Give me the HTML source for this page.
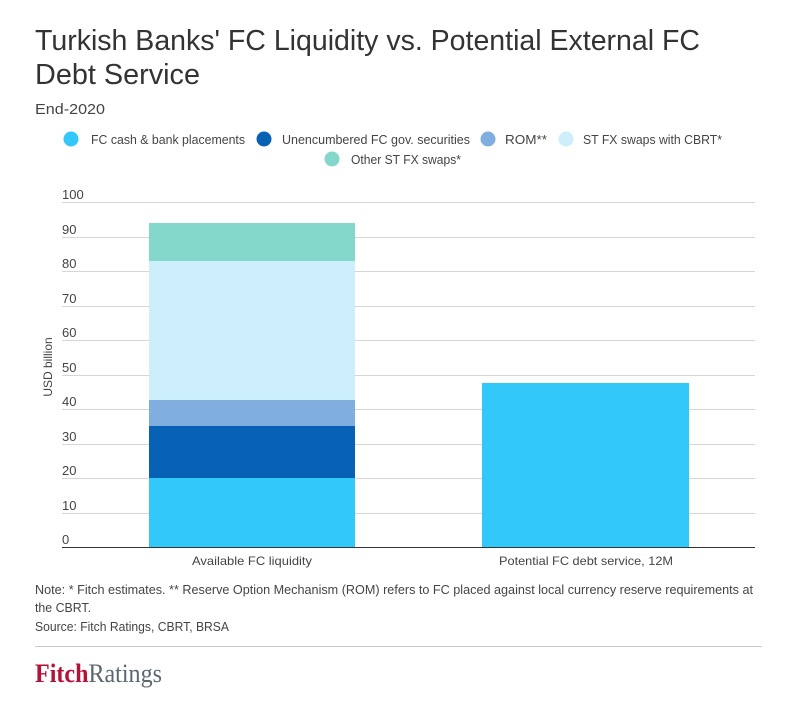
<!DOCTYPE html>
<html><head><meta charset="utf-8"><style>
body{margin:0;background:#fff;}
svg text{font-family:"Liberation Sans",sans-serif;}
</style></head><body>
<svg width="812" height="698" xmlns="http://www.w3.org/2000/svg">
<rect width="812" height="698" fill="#fff"/>
<text x="35" y="50" font-size="29" fill="#333" textLength="665" lengthAdjust="spacingAndGlyphs">Turkish Banks' FC Liquidity vs. Potential External FC</text>
<text x="35" y="84" font-size="29" fill="#333" textLength="165" lengthAdjust="spacingAndGlyphs">Debt Service</text>
<text x="35" y="114" font-size="15" fill="#444" textLength="70" lengthAdjust="spacingAndGlyphs">End-2020</text>
<g font-size="13" fill="#444">
<circle cx="71" cy="139" r="7.5" fill="#33c8fa"/><text x="91" y="144" textLength="154" lengthAdjust="spacingAndGlyphs">FC cash &amp; bank placements</text>
<circle cx="264" cy="139" r="7.5" fill="#0762b5"/><text x="282" y="144" textLength="188" lengthAdjust="spacingAndGlyphs">Unencumbered FC gov. securities</text>
<circle cx="488" cy="139" r="7.5" fill="#80aede"/><text x="505" y="144" textLength="42" lengthAdjust="spacingAndGlyphs">ROM**</text>
<circle cx="566" cy="139" r="7.5" fill="#cdeffc"/><text x="583" y="144" textLength="139" lengthAdjust="spacingAndGlyphs">ST FX swaps with CBRT*</text>
<circle cx="332" cy="159" r="7.5" fill="#84d7cb"/><text x="351" y="164" textLength="110" lengthAdjust="spacingAndGlyphs">Other ST FX swaps*</text>
</g>
<g stroke="#d6d6d6" stroke-width="1">
<line x1="62" x2="755" y1="202.5" y2="202.5"/><line x1="62" x2="755" y1="237.5" y2="237.5"/>
<line x1="62" x2="755" y1="271.5" y2="271.5"/><line x1="62" x2="755" y1="306.5" y2="306.5"/>
<line x1="62" x2="755" y1="340.5" y2="340.5"/><line x1="62" x2="755" y1="375.5" y2="375.5"/>
<line x1="62" x2="755" y1="409.5" y2="409.5"/><line x1="62" x2="755" y1="444.5" y2="444.5"/>
<line x1="62" x2="755" y1="478.5" y2="478.5"/><line x1="62" x2="755" y1="513.5" y2="513.5"/>
</g>
<g font-size="13" fill="#444">
<text x="62" y="199">100</text><text x="62" y="234">90</text><text x="62" y="268">80</text>
<text x="62" y="303">70</text><text x="62" y="337">60</text><text x="62" y="372">50</text>
<text x="62" y="406">40</text><text x="62" y="441">30</text><text x="62" y="475">20</text>
<text x="62" y="510">10</text><text x="62" y="544">0</text>
</g>
<text transform="translate(52,367) rotate(-90)" font-size="12" fill="#444" text-anchor="middle">USD billion</text>
<rect x="149" y="478" width="206" height="69" fill="#33c8fa"/>
<rect x="149" y="426" width="206" height="52" fill="#0762b5"/>
<rect x="149" y="400" width="206" height="26" fill="#80aede"/>
<rect x="149" y="261" width="206" height="139" fill="#cdeffc"/>
<rect x="149" y="223" width="206" height="38" fill="#84d7cb"/>
<rect x="482" y="383" width="207" height="164" fill="#33c8fa"/>
<line x1="62" x2="755" y1="547.5" y2="547.5" stroke="#333" stroke-width="1"/>
<g font-size="12" fill="#444">
<text x="192" y="565" textLength="120" lengthAdjust="spacingAndGlyphs">Available FC liquidity</text>
<text x="499" y="565" textLength="174" lengthAdjust="spacingAndGlyphs">Potential FC debt service, 12M</text>
</g>
<g font-size="13" fill="#444">
<text x="35" y="594" textLength="718" lengthAdjust="spacingAndGlyphs">Note: * Fitch estimates. ** Reserve Option Mechanism (ROM) refers to FC placed against local currency reserve requirements at</text>
<text x="35" y="612" textLength="56" lengthAdjust="spacingAndGlyphs">the CBRT.</text>
<text x="35" y="631" textLength="194" lengthAdjust="spacingAndGlyphs">Source: Fitch Ratings, CBRT, BRSA</text>
</g>
<line x1="35" x2="762" y1="646.5" y2="646.5" stroke="#ccc"/>
<text x="35" y="682" font-size="26" style="font-family:'Liberation Serif',serif" textLength="127" lengthAdjust="spacingAndGlyphs"><tspan fill="#b5123a" font-weight="bold">Fitch</tspan><tspan fill="#5a6670">Ratings</tspan></text>
</svg>
</body></html>
